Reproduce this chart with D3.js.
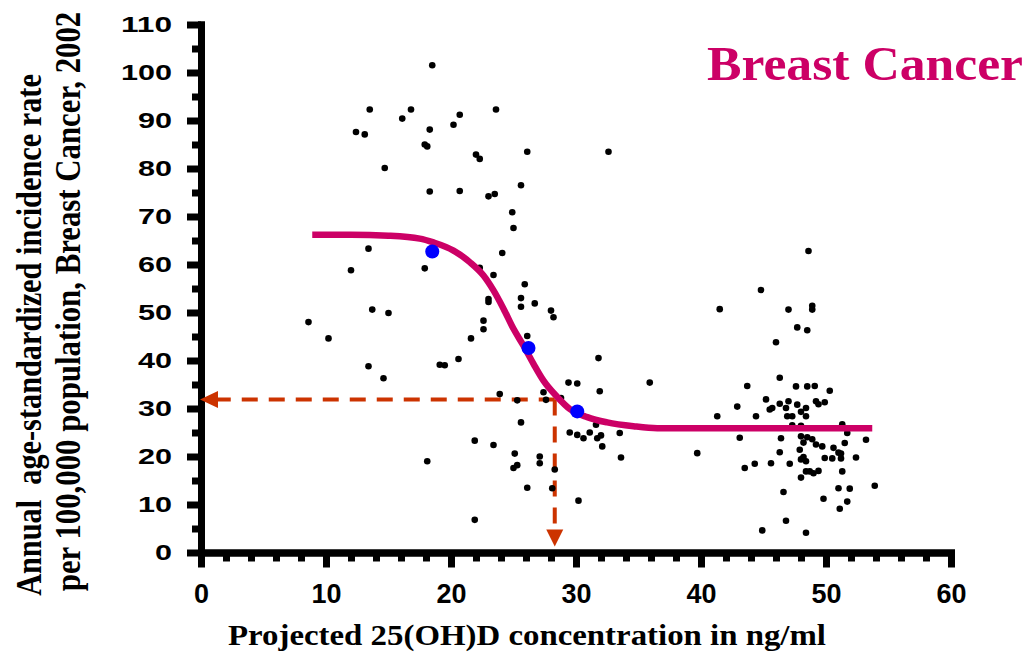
<!DOCTYPE html>
<html>
<head>
<meta charset="utf-8">
<script src="https://cdn.jsdelivr.net/npm/d3@7"></script>
<style>
    body { margin: 0; background: #fff; }
    .axis path, .axis line { stroke: #000; stroke-width: 7px; }
    .axis path { stroke-linecap: square; }
    .axis text { font-family: "Liberation Sans", Arial, sans-serif; font-weight: bold; fill: #000; }
    .serif { font-family: "Liberation Serif", "Times New Roman", serif; font-weight: bold; white-space: pre; }
</style>
</head>
<body>
<script>

var width = 1033,
    height = 653;

// projected 25(OH)D (ng/ml) and incidence per 100,000, one dot per country
var vitD = [13.5, 16.8, 16.1, 12.4, 13.1, 14.7, 13.4, 12.0,
    18.5, 20.7, 23.6, 20.2, 18.3, 17.9, 18.1, 22.0, 22.3, 26.1, 32.6, 18.3, 20.7, 23.0, 23.5, 25.6, 24.9, 25.0,
    17.9, 24.1, 22.3, 23.4, 25.9, 23.0, 25.6,
    8.6, 10.2, 13.7, 15.0, 13.4, 14.6,
    23.0, 25.6, 26.7, 28.0, 28.2, 22.6, 22.6, 21.6, 26.1, 20.6, 19.1, 19.5, 31.8, 29.4, 30.1, 31.9, 35.9,
    23.9, 27.4, 25.3, 27.6, 28.8, 25.6, 31.6, 29.5, 30.1, 30.6, 31.1, 31.7, 32.0, 32.1, 33.5, 21.9, 23.4,
    18.1, 25.1, 27.1, 27.1, 25.0, 25.3, 28.3, 33.6, 26.1, 28.1, 30.2, 21.9,
    48.6, 44.8, 41.5, 47.0, 48.9, 48.9, 47.7, 48.5, 46.0, 46.3, 43.7, 47.6, 48.5, 49.1, 50.3, 45.2, 42.9,
    46.3, 47.0, 45.5, 45.7, 46.8, 47.7, 48.4, 49.2, 49.4, 49.9, 41.3, 44.4, 46.9, 47.3, 48.0, 48.4, 47.3,
    48.0, 51.3, 51.7, 43.1, 46.4, 48.0, 48.5, 48.9, 49.2, 49.7, 48.2, 51.5, 53.2, 39.7, 46.3, 47.9, 50.6,
    51.0, 51.2, 50.5, 49.9, 51.2, 52.4, 48.0, 48.2, 48.4, 43.5, 44.3, 45.6, 47.1, 48.4, 48.7, 49.0, 49.4,
    48.0, 51.3, 51.0, 51.9, 53.9, 46.6, 49.8, 51.7, 51.1, 46.8, 44.9, 48.4];
var incidence = [92.3, 92.3, 90.4, 87.6, 87.1, 80.1, 63.3, 58.8,
    101.5, 91.2, 92.3, 89.1, 88.1, 85.0, 84.6, 82.9, 82.0, 83.5, 83.5, 75.2, 75.3, 74.2, 74.7, 76.5, 70.9, 67.6,
    59.2, 62.4, 59.3, 57.8, 55.9, 52.8, 53.0,
    48.0, 44.6, 50.6, 49.9, 38.8, 36.3,
    52.2, 51.2, 51.9, 50.4, 49.0, 48.3, 46.5, 44.6, 45.1, 40.3, 39.1, 39.0, 40.5, 35.4, 35.2, 33.6, 35.4,
    33.0, 33.4, 31.7, 31.8, 32.2, 27.1, 26.6, 25.0, 24.5, 23.8, 25.0, 23.8, 24.4, 22.1, 24.9, 23.3, 22.4,
    19.0, 20.6, 20.0, 18.6, 17.6, 18.2, 17.3, 19.8, 13.5, 13.4, 10.8, 6.8,
    62.8, 54.7, 50.7, 50.6, 51.4, 50.6, 46.9, 46.3, 43.8, 36.4, 34.7, 34.6, 34.6, 34.7, 33.7, 31.9, 30.4,
    31.0, 31.5, 29.8, 30.1, 30.1, 30.8, 30.1, 31.5, 30.9, 31.3, 28.4, 28.4, 28.4, 28.4, 29.3, 28.4, 26.5,
    26.4, 26.7, 24.9, 23.9, 23.8, 24.2, 24.0, 23.6, 22.5, 22.1, 22.9, 22.8, 23.5, 20.7, 20.9, 21.4, 21.8,
    20.8, 20.6, 19.6, 19.7, 19.6, 19.8, 19.4, 19.9, 19.0, 17.6, 18.5, 18.6, 18.5, 16.9, 16.9, 16.5, 17.0,
    15.6, 16.9, 13.4, 13.3, 13.9, 12.6, 11.2, 10.6, 9.1, 6.6, 4.6, 4.1];

// fitted curve
var curveX = [8.9, 12, 15, 17.5, 18.6, 20.2, 21.5, 22.6, 23.4, 24.2, 25.0, 25.8, 26.6, 27.4, 28.5, 29.5, 30.9, 32.5, 34.6, 36.5, 40, 53.7];
var curveY = [66.2, 66.2, 66.0, 65.4, 64.6, 62.9, 60.5, 57.7, 54.6, 50.8, 46.6, 43.1, 39.3, 35.8, 32.4, 29.9, 28.2, 27.1, 26.3, 25.9, 25.9, 25.9];

// highlighted points on the curve
var markX = [18.5, 26.2, 30.1];
var markY = [62.7, 42.6, 29.4];

// reading marked with the dashed arrows
var refX = 28.3, refY = 31.9;

var xTicks = [0, 10, 20, 30, 40, 50, 60];
var yTicks = [0, 10, 20, 30, 40, 50, 60, 70, 80, 90, 100, 110];

var title = "Breast Cancer";
var xTitle = "Projected 25(OH)D concentration in ng/ml";
var yTitle = ["Annual  age-standardized incidence rate", "per 100,000 population, Breast Cancer, 2002"];

var x = d3.scaleLinear().domain([0, 60]).range([201, 951]);
var y = d3.scaleLinear().domain([0, 110]).range([552.5, 24.5]);

var svg = d3.select("body").append("svg")
    .attr("width", width)
    .attr("height", height);

// axes, minor ticks first
svg.append("g")
    .attr("class", "axis")
    .attr("transform", "translate(" + x(0) + ",0)")
    .call(d3.axisLeft(y).tickValues(d3.range(5, 110, 10)).tickSize(9).tickSizeOuter(0).tickFormat(""));
var yAxis = svg.append("g")
    .attr("class", "axis")
    .attr("transform", "translate(" + x(0) + ",0)")
    .call(d3.axisLeft(y).tickValues(yTicks).tickSize(14).tickSizeOuter(0).tickPadding(15));
yAxis.selectAll("text")
    .style("font-size", "22px")
    .attr("textLength", function(d) { return String(d).length * 17; })
    .attr("lengthAdjust", "spacingAndGlyphs");

svg.append("g")
    .attr("class", "axis")
    .attr("transform", "translate(0," + y(0) + ")")
    .call(d3.axisBottom(x).tickValues(d3.range(2, 60, 2).filter(function(d) { return d % 10; }))
        .tickSize(9).tickSizeOuter(0).tickFormat(""));
var xAxis = svg.append("g")
    .attr("class", "axis")
    .attr("transform", "translate(0," + y(0) + ")")
    .call(d3.axisBottom(x).tickValues(xTicks).tickSize(15).tickSizeOuter(0));
xAxis.selectAll("text")
    .style("font-size", "28px")
    .attr("textLength", function(d) { return String(d).length * 15; })
    .attr("lengthAdjust", "spacingAndGlyphs")
    .attr("y", 50)
    .attr("dy", null);

// dashed reading arrows
var red = "#CC3300";
svg.append("path")
    .attr("d", "M" + x(refX) + "," + y(refY) + "H" + (x(0) + 17))
    .style("fill", "none")
    .style("stroke", red)
    .style("stroke-width", 4)
    .style("stroke-dasharray", "16,11");
svg.append("path")
    .attr("d", "M" + x(refX) + "," + y(refY) + "V" + (y(0) - 23))
    .style("fill", "none")
    .style("stroke", red)
    .style("stroke-width", 4)
    .style("stroke-dasharray", "16,11");
svg.append("path")
    .attr("d", "M" + (x(0) - 1) + "," + y(refY) + "l18,-8.5v17z")
    .style("fill", red);
svg.append("path")
    .attr("d", "M" + x(refX) + "," + (y(0) - 6) + "l-8.5,-17h17z")
    .style("fill", red);

// country dots
svg.selectAll("circle.dot")
    .data(d3.range(vitD.length))
    .enter().append("circle")
    .attr("class", "dot")
    .attr("cx", function(i) { return x(vitD[i]); })
    .attr("cy", function(i) { return y(incidence[i]); })
    .attr("r", 3.3)
    .style("fill", "#000");

// fitted curve
var line = d3.line()
    .x(function(i) { return x(curveX[i]); })
    .y(function(i) { return y(curveY[i]); })
    .curve(d3.curveMonotoneX);
svg.append("path")
    .datum(d3.range(curveX.length))
    .attr("d", line)
    .style("fill", "none")
    .style("stroke", "#CC0066")
    .style("stroke-width", 6.5);

svg.selectAll("circle.mark")
    .data(d3.range(markX.length))
    .enter().append("circle")
    .attr("class", "mark")
    .attr("cx", function(i) { return x(markX[i]); })
    .attr("cy", function(i) { return y(markY[i]); })
    .attr("r", 7)
    .style("fill", "#0000FF");

// titles
svg.append("text")
    .attr("class", "serif")
    .attr("x", 707)
    .attr("y", 80)
    .attr("textLength", 316)
    .attr("lengthAdjust", "spacingAndGlyphs")
    .style("font-size", "48px")
    .style("fill", "#CC0066")
    .text(title);

svg.append("text")
    .attr("class", "serif")
    .attr("x", 228)
    .attr("y", 645)
    .attr("textLength", 598)
    .attr("lengthAdjust", "spacingAndGlyphs")
    .style("font-size", "30px")
    .text(xTitle);

// y title: glyphs are wider than tall in the source, so stretch across
svg.append("text")
    .attr("class", "serif")
    .attr("transform", "translate(41,335) scale(1.17,1) rotate(-90)")
    .attr("text-anchor", "middle")
    .style("font-size", "30.3px")
    .text(yTitle[0]);
svg.append("text")
    .attr("class", "serif")
    .attr("transform", "translate(80,301.5) scale(1.17,1) rotate(-90)")
    .attr("text-anchor", "middle")
    .style("font-size", "30.8px")
    .text(yTitle[1]);

</script>
</body>
</html>
